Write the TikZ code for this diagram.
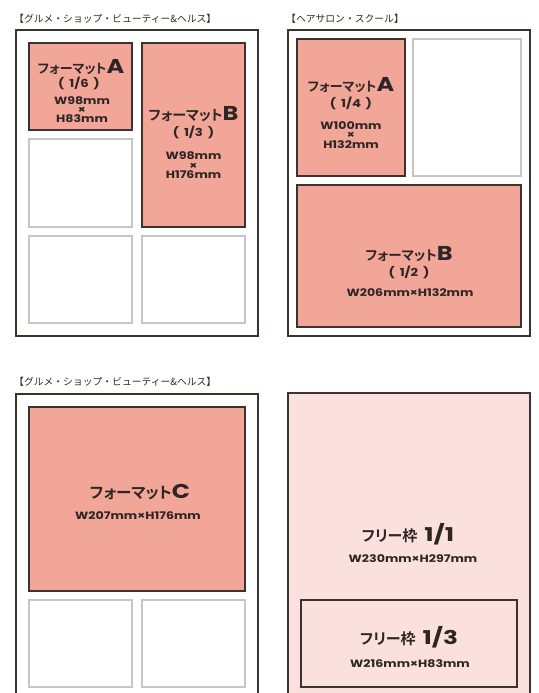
\documentclass[tikz,border=0pt]{standalone}
\usepackage{fontspec}
\usetikzlibrary{positioning}
\newfontfamily\jpfont{Noto Sans CJK JP}
\newfontfamily\kanafont{Noto Sans CJK JP Bold}[RawFeature=+palt]
\newfontfamily\latfont{Poppins}
\definecolor{salmon}{HTML}{F1A698}
\definecolor{blush}{HTML}{FBE1DD}
\definecolor{ink}{HTML}{2E2624}
\definecolor{edge}{HTML}{3C3331}
\definecolor{faint}{HTML}{C6C6C6}

% wide bold latin: size, x-stretch, text
\newcommand{\latw}[3]{\scalebox{#2}[1]{\latfont\bfseries\fontsize{#1}{#1}\selectfont #3}}
\newcommand{\fmthead}[3]{{\kanafont\fontsize{#1}{#1}\selectfont #2}\latw{20}{1.2}{#3}}
\newcommand{\fmtpart}[1]{\latw{11}{1.2}{(\hspace{4pt}#1\hspace{4pt})}}
\newcommand{\fmtdims}[1]{\latw{10.5}{1.2}{#1}}
\newcommand{\freehead}[1]{{\kanafont\fontsize{15}{15}\selectfont フリー枠}\hspace{7pt}\latw{19}{1.3}{#1}}
\newcommand{\cattext}[1]{{\jpfont\fontsize{9.8}{9.8}\selectfont #1}}

\begin{document}
\begin{tikzpicture}[x=1pt,y=-1pt,
    frame/.style={draw=edge,line width=1.4pt},
    fmtbox/.style={draw=edge,fill=salmon,line width=1.3pt},
    spare/.style={draw=faint,line width=1.6pt},
    freebox/.style={draw=edge,fill=blush,line width=1.3pt},
    txt/.style={inner sep=0pt,text=ink,anchor=base},
    stack/.style={txt,align=center,font=\fontsize{9}{9}\selectfont}]
    \useasboundingbox (0,0) rectangle (538,693);
    % \draw[step=10pt,gray,very thin] (0,0) grid (538,693);

    % gourmet, shop, beauty (1/6 + 1/3)
    \node[txt,anchor=base west] (cat1) at (14,23) {\cattext{【グルメ・ショップ・ビューティー\&ヘルス】}};
    \draw[frame]  (16,30) rectangle (258,336);
    \draw[fmtbox] (29,43) rectangle (132,130);
    \draw[fmtbox] (142,43) rectangle (245,227);
    \draw[spare]  (29,139) rectangle (132,227);
    \draw[spare]  (29,236) rectangle (132,323);
    \draw[spare]  (142,236) rectangle (245,323);
    \node[txt]   (a1)  at (81,74)  {\fmthead{13}{フォーマット}{A}};
    \node[txt]   (a1p) at (79,88)  {\fmtpart{1/6}};
    % stacked lines: base = last line
    \node[stack] (a1d) at (82,122) {\fmtdims{W98mm}\\\fmtdims{×}\\\fmtdims{H83mm}};
    \node[txt]   (b1)  at (193.5,120) {\fmthead{14}{フォーマット}{B}};
    \node[txt]   (b1p) at (193.5,136) {\fmtpart{1/3}};
    \node[stack,font=\fontsize{9.5}{9.5}\selectfont] (b1d) at (193.5,178.5) {\fmtdims{W98mm}\\\fmtdims{×}\\\fmtdims{H176mm}};

    % hair salon, school (1/4 + 1/2)
    \node[txt,anchor=base west] (cat2) at (286,23) {\cattext{【ヘアサロン・スクール】}};
    \draw[frame]  (288,30) rectangle (530,336);
    \draw[fmtbox] (297,39) rectangle (405,176);
    \draw[spare]  (413,39) rectangle (521,176);
    \draw[fmtbox] (297,185) rectangle (521,327);
    \node[txt]   (a2)  at (351,92)  {\fmthead{13}{フォーマット}{A}};
    \node[txt]   (a2p) at (351,107) {\fmtpart{1/4}};
    \node[stack,font=\fontsize{9.5}{9.5}\selectfont] (a2d) at (351,148) {\fmtdims{W100mm}\\\fmtdims{×}\\\fmtdims{H132mm}};
    \node[txt]   (b2)  at (409,260) {\fmthead{13.5}{フォーマット}{B}};
    \node[txt]   (b2p) at (409,276) {\fmtpart{1/2}};
    \node[txt]   (b2d) at (410,296) {\fmtdims{W206mm×H132mm}};

    % gourmet, shop, beauty (format C)
    \node[txt,anchor=base west] (cat3) at (14,385) {\cattext{【グルメ・ショップ・ビューティー\&ヘルス】}};
    \draw[frame]  (16,394) rectangle (258,705);
    \draw[fmtbox] (29,407) rectangle (245,591);
    \draw[spare]  (29,600) rectangle (132,687);
    \draw[spare]  (142,600) rectangle (245,687);
    \node[txt] (c3)  at (140,498) {\fmthead{15.5}{フォーマット}{C}};
    \node[txt] (c3d) at (138,519) {\fmtdims{W207mm×H176mm}};

    % free frames
    \draw[freebox] (288,393) rectangle (530,705);
    \draw[frame,line width=1.3pt] (301,600) rectangle (517,687);
    \node[txt] (f1)  at (408,541) {\freehead{1/1}};
    \node[txt] (f1d) at (413,562) {\fmtdims{W230mm×H297mm}};
    \node[txt] (f3)  at (409,644) {\freehead{1/3}};
    \node[txt] (f3d) at (410,667) {\fmtdims{W216mm×H83mm}};
\end{tikzpicture}
\end{document}
